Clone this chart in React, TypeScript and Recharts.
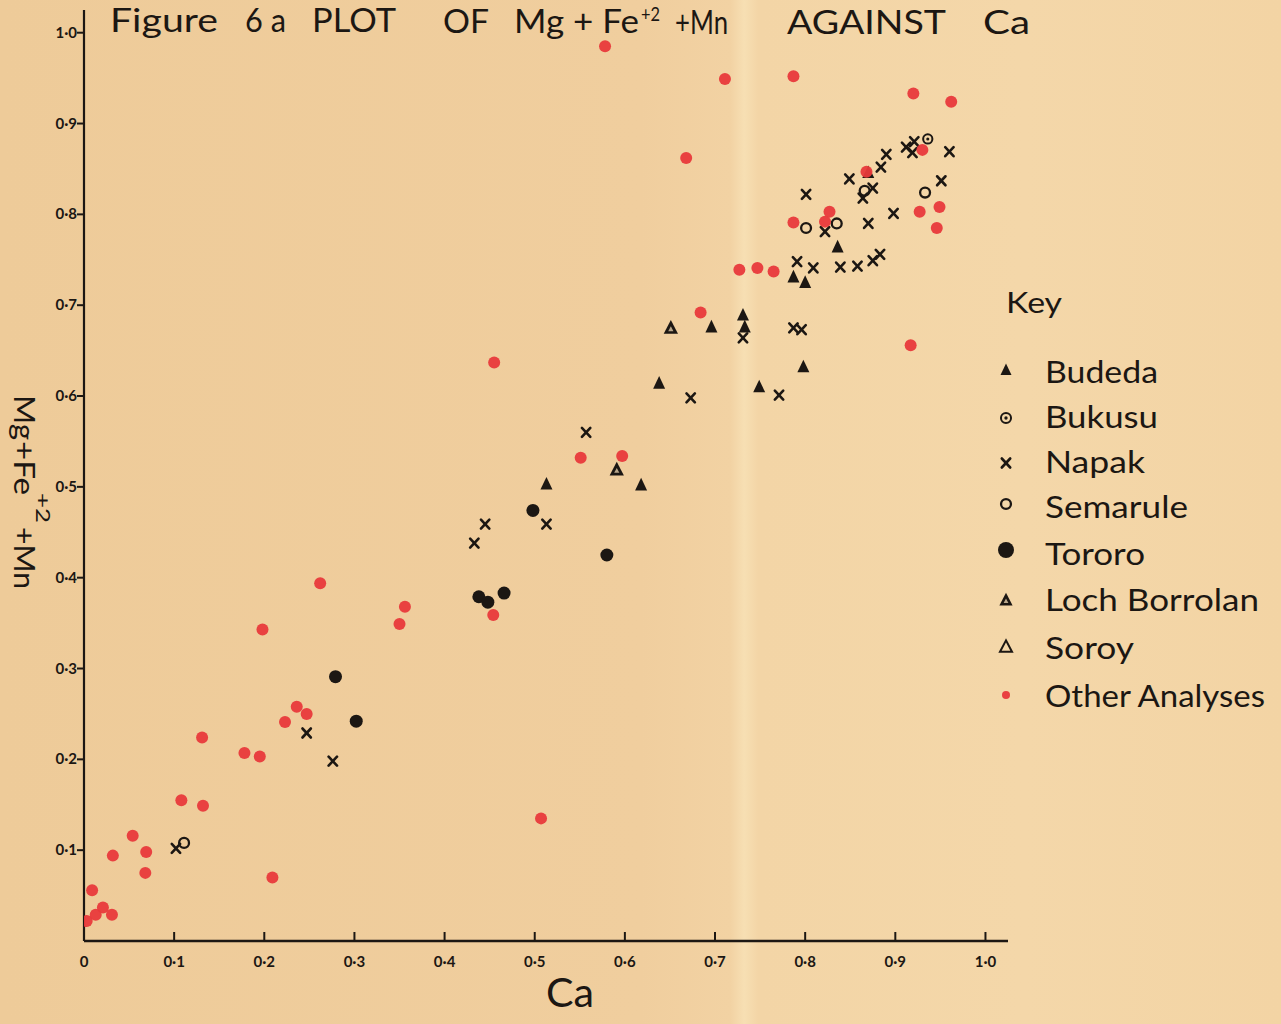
import { Scatter, ScatterChart, XAxis, YAxis } from 'recharts';

// Ca (x) against Mg + Fe+2 + Mn (y), one list of [Ca, Mg+Fe+Mn] pairs per locality
const budeda = [
    [0.513, 0.503], [0.618, 0.502], [0.638, 0.614], [0.696, 0.676], [0.731, 0.689], [0.733, 0.676],
    [0.749, 0.610], [0.787, 0.731], [0.800, 0.725], [0.798, 0.632], [0.836, 0.764], [0.870, 0.846],
];
const bukusu = [[0.936, 0.883]];
const napak = [
    [0.102, 0.102], [0.247, 0.229], [0.276, 0.198], [0.433, 0.438], [0.445, 0.459], [0.513, 0.459],
    [0.557, 0.560], [0.673, 0.598], [0.731, 0.664], [0.771, 0.601], [0.787, 0.675], [0.796, 0.673],
    [0.791, 0.748], [0.809, 0.741], [0.839, 0.742], [0.858, 0.743], [0.875, 0.749], [0.883, 0.756],
    [0.822, 0.781], [0.870, 0.790], [0.898, 0.801], [0.801, 0.822], [0.849, 0.839], [0.864, 0.818],
    [0.875, 0.829], [0.884, 0.852], [0.890, 0.866], [0.912, 0.874], [0.919, 0.868], [0.921, 0.880],
    [0.951, 0.837], [0.960, 0.869],
];
const semarule = [[0.111, 0.108], [0.801, 0.785], [0.835, 0.790], [0.866, 0.826], [0.933, 0.824]];
const tororo = [
    [0.279, 0.291], [0.302, 0.242], [0.438, 0.379], [0.448, 0.373], [0.466, 0.383], [0.498, 0.474], [0.580, 0.425],
];
const lochBorrolan = [[0.591, 0.519], [0.651, 0.675]];
const soroy: number[][] = [];
const otherAnalyses = [
    [0.003, 0.022], [0.013, 0.029], [0.021, 0.037], [0.031, 0.029], [0.009, 0.056], [0.032, 0.094],
    [0.054, 0.116], [0.069, 0.098], [0.068, 0.075], [0.108, 0.155], [0.132, 0.149], [0.131, 0.224],
    [0.178, 0.207], [0.195, 0.203], [0.209, 0.070], [0.198, 0.343], [0.223, 0.241], [0.236, 0.258],
    [0.247, 0.250], [0.262, 0.394], [0.350, 0.349], [0.356, 0.368], [0.454, 0.359], [0.455, 0.637],
    [0.507, 0.135], [0.551, 0.532], [0.597, 0.534], [0.578, 0.985], [0.668, 0.862], [0.684, 0.692],
    [0.711, 0.949], [0.727, 0.739], [0.747, 0.741], [0.765, 0.737], [0.787, 0.952], [0.787, 0.791],
    [0.822, 0.792], [0.827, 0.803], [0.868, 0.847], [0.917, 0.656], [0.920, 0.933], [0.927, 0.803],
    [0.930, 0.871], [0.946, 0.785], [0.949, 0.808], [0.962, 0.924],
];

const CA_TICKS = [0, 0.1, 0.2, 0.3, 0.4, 0.5, 0.6, 0.7, 0.8, 0.9, 1.0];
const CA_LABELS = ['0', '0·1', '0·2', '0·3', '0·4', '0·5', '0·6', '0·7', '0·8', '0·9', '1·0'];
const MG_TICKS = [0.1, 0.2, 0.3, 0.4, 0.5, 0.6, 0.7, 0.8, 0.9, 1.0];
const MG_LABELS = ['0·1', '0·2', '0·3', '0·4', '0·5', '0·6', '0·7', '0·8', '0·9', '1·0'];

const INK = '#1c1713';
const RED = '#e8393b';
const FONT = 'Lato, "Noto Sans", sans-serif';

const toPts = (rows: number[][]) => rows.map(([ca, mg]) => ({ ca, mg }));

type MarkProps = { cx: number; cy: number; s?: number };

const FilledTri = ({ cx, cy, s = 12 }: MarkProps) => (
    <polygon points={`${cx},${cy - s * 0.6} ${cx - s * 0.5},${cy + s * 0.45} ${cx + s * 0.5},${cy + s * 0.45}`} fill={INK} />
);
const LochTri = ({ cx, cy, s = 13 }: MarkProps) => (
    <g>
        <polygon points={`${cx},${cy - s * 0.6} ${cx - s * 0.55},${cy + s * 0.45} ${cx + s * 0.55},${cy + s * 0.45}`} fill={INK} />
        <polygon points={`${cx},${cy - s * 0.12} ${cx - s * 0.2},${cy + s * 0.25} ${cx + s * 0.2},${cy + s * 0.25}`} fill="#b9a68a" />
    </g>
);
const OpenTri = ({ cx, cy, s = 12 }: MarkProps) => (
    <polygon points={`${cx},${cy - s * 0.55} ${cx - s * 0.5},${cy + s * 0.4} ${cx + s * 0.5},${cy + s * 0.4}`} fill="none" stroke={INK} strokeWidth={2} />
);
const DotCircle = ({ cx, cy, s = 11 }: MarkProps) => (
    <g>
        <circle cx={cx} cy={cy} r={s * 0.42} fill="none" stroke={INK} strokeWidth={2} />
        <circle cx={cx} cy={cy} r={s * 0.14} fill={INK} />
    </g>
);
const Cross = ({ cx, cy, s = 10 }: MarkProps) => (
    <g stroke={INK} strokeWidth={2.6} strokeLinecap="round">
        <line x1={cx - s * 0.42} y1={cy - s * 0.45} x2={cx + s * 0.42} y2={cy + s * 0.45} />
        <line x1={cx + s * 0.42} y1={cy - s * 0.45} x2={cx - s * 0.42} y2={cy + s * 0.45} />
    </g>
);
const OpenCircle = ({ cx, cy, s = 11 }: MarkProps) => (
    <circle cx={cx} cy={cy} r={s * 0.45} fill="none" stroke={INK} strokeWidth={2.3} />
);
const FilledCircle = ({ cx, cy, s = 13 }: MarkProps) => <circle cx={cx} cy={cy} r={s * 0.5} fill={INK} />;
const RedDot = ({ cx, cy, s = 12 }: MarkProps) => <circle cx={cx} cy={cy} r={s * 0.5} fill={RED} opacity={0.95} />;

const SERIES = [
    { name: 'Budeda', rows: budeda, Mark: FilledTri, key: 11 },
    { name: 'Bukusu', rows: bukusu, Mark: DotCircle, key: 12 },
    { name: 'Napak', rows: napak, Mark: Cross, key: 10 },
    { name: 'Semarule', rows: semarule, Mark: OpenCircle, key: 11 },
    { name: 'Tororo', rows: tororo, Mark: FilledCircle, key: 16 },
    { name: 'Loch Borrolan', rows: lochBorrolan, Mark: LochTri, key: 12 },
    { name: 'Soroy', rows: soroy, Mark: OpenTri, key: 12 },
    { name: 'Other Analyses', rows: otherAnalyses, Mark: RedDot, key: 8 },
];

// key rows: marker centre, text baseline, text width
const KEY_ROWS = [
    [370, 383, 113], [418, 428, 113], [463, 473, 100], [504, 518, 143], [550, 565, 100],
    [600, 611, 214], [647, 659, 89], [695, 707, 220],
];

function CaTick(props: any) {
    const { x, y, payload } = props;
    const i = CA_TICKS.indexOf(payload.value);
    return (
        <g>
            {payload.value > 0 && <line x1={x} x2={x} y1={y} y2={y - 9} stroke={INK} strokeWidth={2} />}
            <text x={x} y={y + 26} textAnchor="middle" fontSize={15} fontWeight={700} fontFamily={FONT} fill={INK}>
                {CA_LABELS[i]}
            </text>
        </g>
    );
}

function MgTick(props: any) {
    const { x, y, payload } = props;
    const i = MG_TICKS.indexOf(payload.value);
    return (
        <g>
            <line x1={x - 7} x2={x} y1={y} y2={y} stroke={INK} strokeWidth={2} />
            <text x={x - 7} y={y + 5} textAnchor="end" fontSize={15} fontWeight={700} fontFamily={FONT} fill={INK}>
                {MG_LABELS[i]}
            </text>
        </g>
    );
}

function Lettering() {
    const t = { fontFamily: FONT, fill: INK, fontSize: 33, lengthAdjust: 'spacingAndGlyphs' as const };
    return (
        <svg width={1281} height={1024} style={{ position: 'absolute', left: 0, top: 0, pointerEvents: 'none' }}>
            <text x={110} y={32} {...t} textLength={108}>Figure</text>
            <text x={245} y={32} {...t} textLength={41}>6 a</text>
            <text x={312} y={32} {...t} textLength={84}>PLOT</text>
            <text x={443} y={33} {...t} textLength={46}>OF</text>
            <text x={514} y={33} {...t} textLength={125}>Mg + Fe</text>
            <text x={641} y={21} {...t} fontSize={20} textLength={19}>+2</text>
            <text x={675} y={34} {...t} textLength={53}>+Mn</text>
            <text x={787} y={34} {...t} textLength={159}>AGAINST</text>
            <text x={983} y={34} {...t} textLength={47}>Ca</text>

            <g transform="translate(14 395) rotate(90)">
                <text x={0} y={0} {...t} fontSize={29} textLength={45}>Mg</text>
                <text x={46} y={0} {...t} fontSize={29} textLength={54}>+Fe</text>
                <text x={98} y={-22} {...t} fontSize={20} textLength={30}>+2</text>
                <text x={132} y={0} {...t} fontSize={29} textLength={62}>+Mn</text>
            </g>
            <text x={546} y={1007} {...t} fontSize={40} textLength={48}>Ca</text>

            <text x={1006} y={313} {...t} fontSize={29} textLength={56}>Key</text>
            {SERIES.map(({ name, Mark, key }, i) => {
                const [cy, base, w] = KEY_ROWS[i];
                return (
                    <g key={name}>
                        <Mark cx={1006} cy={cy} s={key} />
                        <text x={1045} y={base} {...t} fontSize={31} textLength={w}>
                            {name}
                        </text>
                    </g>
                );
            })}
        </svg>
    );
}

export default function App() {
    return (
        <div
            style={{
                position: 'absolute',
                left: 0,
                top: 0,
                width: 1281,
                height: 1024,
                overflow: 'hidden',
                background:
                    'linear-gradient(90deg, #eecb99 0%, #f0ce9e 50%, #f2d2a3 57%, #f7dfb3 58.1%, #f3d5a6 59.2%, #f4d7a9 80%, #f3d4a4 100%)',
            }}
        >
            <ScatterChart width={1281} height={1024} margin={{ top: 10, right: 273, bottom: 82, left: 83 }}>
                <XAxis
                    type="number"
                    dataKey="ca"
                    domain={[0, 1.025]}
                    ticks={CA_TICKS}
                    height={1}
                    tickSize={0}
                    tickMargin={0}
                    tick={<CaTick />}
                    axisLine={{ stroke: INK, strokeWidth: 2.6 }}
                    tickLine={false}
                    allowDataOverflow
                />
                <YAxis
                    type="number"
                    dataKey="mg"
                    domain={[0, 1.025]}
                    ticks={MG_TICKS}
                    width={1}
                    tickSize={0}
                    tickMargin={0}
                    tick={<MgTick />}
                    axisLine={{ stroke: INK, strokeWidth: 2.2 }}
                    tickLine={false}
                    allowDataOverflow
                />
                {SERIES.map(({ name, rows, Mark }) => (
                    <Scatter
                        key={name}
                        name={name}
                        data={toPts(rows)}
                        isAnimationActive={false}
                        shape={(p: any) => <Mark cx={p.cx} cy={p.cy} />}
                    />
                ))}
            </ScatterChart>
            <Lettering />
        </div>
    );
}
